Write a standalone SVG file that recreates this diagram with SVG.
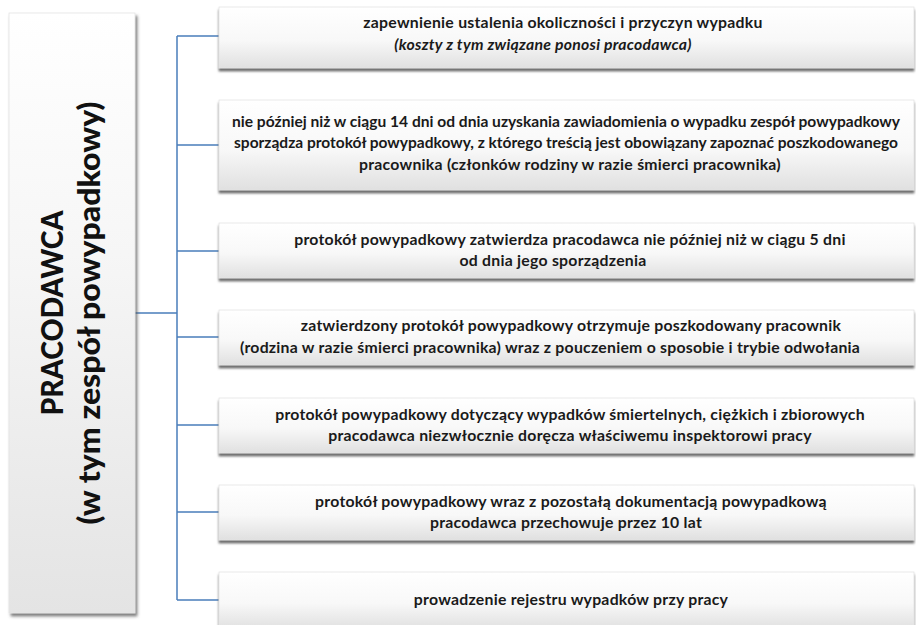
<svg xmlns="http://www.w3.org/2000/svg" width="916" height="625" viewBox="0 0 916 625">
<style>
.box{fill:url(#gBox);stroke:#e3e3e3;stroke-width:0.8;filter:url(#sh)}
.t{font-family:Lato,"Open Sans","Liberation Sans",sans-serif;font-weight:bold;font-size:15.8px;letter-spacing:0.25px;fill:#1a1a1a;text-anchor:middle}
.fit{letter-spacing:0;font-size:15.4px}
.it{font-style:italic}
.big{font-family:Lato,"Open Sans","Liberation Sans",sans-serif;font-weight:900;font-size:30px;fill:#111;text-anchor:middle}
.ln{fill:none;stroke:#4a7ebb;stroke-width:1.5}
</style>
<defs>
<linearGradient id="gBox" x1="0" y1="0" x2="0" y2="1">
<stop offset="0" stop-color="#ffffff"/>
<stop offset="0.55" stop-color="#f8f8f8"/>
<stop offset="1" stop-color="#e0e0e0"/>
</linearGradient>
<linearGradient id="gLeft" x1="0" y1="0" x2="0" y2="1">
<stop offset="0" stop-color="#ffffff"/>
<stop offset="0.4" stop-color="#f6f6f6"/>
<stop offset="1" stop-color="#e4e4e4"/>
</linearGradient>
<filter id="sh" x="-5%" y="-20%" width="110%" height="150%">
<feDropShadow dx="0" dy="3" stdDeviation="1" flood-color="#555" flood-opacity="0.85"/>
</filter>
<filter id="shL" x="-20%" y="-5%" width="140%" height="110%">
<feDropShadow dx="2" dy="3" stdDeviation="1.5" flood-color="#555" flood-opacity="0.75"/>
</filter>
</defs>
<g id="connectors">
<path class="ln" d="M135 313H177M177 36V600M177 36H219M177 145H219M177 251H219M177 337H219M177 425H219M177 512H219M177 600H219"/>
</g>
<g id="pracodawca">
<rect x="9" y="13" width="126" height="600" fill="url(#gLeft)" stroke="#e3e3e3" stroke-width="0.8" filter="url(#shL)"/>
<text class="big" transform="translate(63,313) rotate(-90)" textLength="205" lengthAdjust="spacingAndGlyphs">PRACODAWCA</text>
<text class="big" transform="translate(100,313) rotate(-90)" textLength="423" lengthAdjust="spacingAndGlyphs">(w tym zespół powypadkowy)</text>
</g>
<g id="n1">
<rect class="box" x="219" y="7" width="695" height="61"/>
<text class="t" x="563" y="28">zapewnienie ustalenia okoliczności i przyczyn wypadku</text>
<text class="t it" x="543" y="50">(koszty z tym związane ponosi pracodawca)</text>
</g>
<g id="n2">
<rect class="box" x="219" y="100" width="695" height="90"/>
<text class="t fit" x="566" y="127" textLength="668" lengthAdjust="spacingAndGlyphs">nie później niż w ciągu 14 dni od dnia uzyskania zawiadomienia o wypadku zespół powypadkowy</text>
<text class="t fit" x="566" y="148" textLength="664" lengthAdjust="spacingAndGlyphs">sporządza protokół powypadkowy, z którego treścią jest obowiązany zapoznać poszkodowanego</text>
<text class="t" x="570" y="170">pracownika (członków rodziny w razie śmierci pracownika)</text>
</g>
<g id="n3">
<rect class="box" x="219" y="223" width="695" height="55"/>
<text class="t" x="570" y="245">protokół powypadkowy zatwierdza pracodawca nie później niż w ciągu 5 dni</text>
<text class="t" x="553" y="266">od dnia jego sporządzenia</text>
</g>
<g id="n4">
<rect class="box" x="219" y="310" width="695" height="55"/>
<text class="t" x="571" y="331">zatwierdzony protokół powypadkowy otrzymuje poszkodowany pracownik</text>
<text class="t" x="550" y="353">(rodzina w razie śmierci pracownika) wraz z pouczeniem o sposobie i trybie odwołania</text>
</g>
<g id="n5">
<rect class="box" x="219" y="398" width="695" height="55"/>
<text class="t" x="570" y="420">protokół powypadkowy dotyczący wypadków śmiertelnych, ciężkich i zbiorowych</text>
<text class="t" x="570" y="441">pracodawca niezwłocznie doręcza właściwemu inspektorowi pracy</text>
</g>
<g id="n6">
<rect class="box" x="219" y="485" width="695" height="55"/>
<text class="t" x="571" y="507">protokół powypadkowy wraz z pozostałą dokumentacją powypadkową</text>
<text class="t" x="566" y="528">pracodawca przechowuje przez 10 lat</text>
</g>
<g id="n7">
<rect class="box" x="219" y="572" width="695" height="57"/>
<text class="t" x="571" y="605">prowadzenie rejestru wypadków przy pracy</text>
</g>
</svg>
